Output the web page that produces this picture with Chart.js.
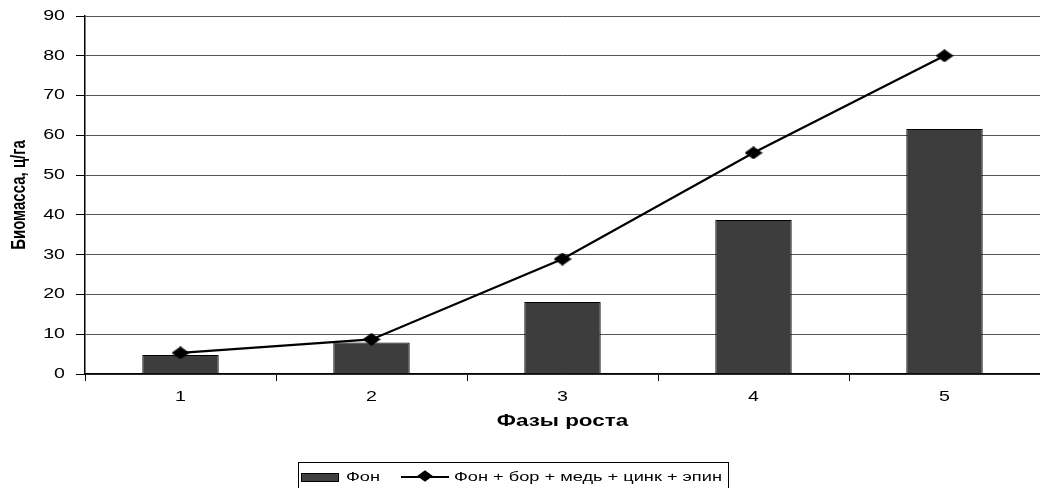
<!DOCTYPE html>
<html>
<head>
<meta charset="utf-8">
<script src="https://cdn.jsdelivr.net/npm/chart.js@4.4.0/dist/chart.umd.min.js"></script>
<style>
  html, body { margin: 0; padding: 0; background: #fff; }
  #wrap { position: relative; width: 1040px; height: 488px; overflow: hidden; }
  #c { position: absolute; left: 0; top: 0; }
  #legend { position: absolute; left: 298px; top: 462px; width: 431px; height: 40px;
    border: 1px solid #000; box-sizing: border-box; font-family: "Liberation Sans", Arial, sans-serif;
    font-size: 13px; color: #000; white-space: nowrap; }
  #legend .item { position: absolute; top: 6px; line-height: 16px; transform: scaleX(1.4); transform-origin: 0 50%; }
  .sw-bar { position: absolute; width: 36px; height: 7px; background: #404040; border: 1px solid #000; }
  .sw-line { position: absolute; width: 48px; height: 2px; background: #000; }
  .sw-dia { position: absolute; width: 8px; height: 8px; background: #000; transform: scaleX(1.4) rotate(45deg); }
</style>
</head>
<body>
<div id="wrap">
  <canvas id="c" width="1040" height="488"></canvas>
  <div id="legend">
    <div class="sw-bar" style="left:2px; top:10px;"></div>
    <div class="item" style="left:47px;">Фон</div>
    <div class="sw-line" style="left:102px; top:13px;"></div>
    <div class="sw-dia" style="left:122px; top:9px;"></div>
    <div class="item" style="left:155px;">Фон + бор + медь + цинк + эпин</div>
  </div>
</div>
<script>
const categories = ["1", "2", "3", "4", "5"];
const seriesBarName = "Фон";
const seriesBar = [4.8, 7.9, 18.1, 38.7, 61.6];
const seriesLineName = "Фон + бор + медь + цинк + эпин";
const seriesLine = [5.3, 8.7, 28.9, 55.6, 80];
const yTicks = [0, 10, 20, 30, 40, 50, 60, 70, 80, 90];
const xTitle = "Фазы роста";
const yTitle = "Биомасса, ц/га";

// The reference image is horizontally stretched: draw text wider to match.
const STRETCH = 1.4;
const origFill = CanvasRenderingContext2D.prototype.fillText;
CanvasRenderingContext2D.prototype.fillText = function (t, x, y) {
  const m = this.getTransform();
  this.save();
  this.translate(x, y);
  if (Math.abs(m.b) > 0.01) this.scale(1, STRETCH); else this.scale(STRETCH, 1);
  origFill.call(this, t, 0, 0);
  this.restore();
};

// stretched diamond marker
const dia = document.createElement('canvas');
dia.width = 18; dia.height = 13;
(function () {
  const g = dia.getContext('2d');
  g.fillStyle = '#000';
  g.beginPath();
  g.moveTo(9, 0); g.lineTo(18, 6.5); g.lineTo(9, 13); g.lineTo(0, 6.5);
  g.closePath(); g.fill();
})();

const tickFont = { family: "'Liberation Sans', Arial, sans-serif", size: 14 };

new Chart(document.getElementById('c'), {
  data: {
    labels: categories,
    datasets: [
      {
        type: 'line', label: seriesLineName, data: seriesLine,
        borderColor: '#000', backgroundColor: '#000', borderWidth: 2.2,
        pointStyle: dia, pointRadius: 7, pointHoverRadius: 7,
        tension: 0, order: 0, clip: false
      },
      {
        type: 'bar', label: seriesBarName, data: seriesBar,
        backgroundColor: '#3d3d3d', borderColor: '#000', borderWidth: 1,
        barPercentage: 0.4, categoryPercentage: 1.0, order: 1
      }
    ]
  },
  options: {
    responsive: false, animation: false,
    layout: { autoPadding: false, padding: { top: 16, right: 0, bottom: 54, left: 0 } },
    plugins: { legend: { display: false }, tooltip: { enabled: false } },
    scales: {
      x: {
        offset: true,
        grid: { offset: true, drawOnChartArea: false, drawTicks: true, tickLength: 7, color: '#000' },
        border: { color: '#000', width: 1.5 },
        ticks: { color: '#000', font: tickFont, padding: 8 },
        title: { display: true, text: xTitle, color: '#000',
          font: { family: "'Liberation Sans', Arial, sans-serif", size: 16, weight: 'bold' }, padding: { top: 0, bottom: 3 } },
        afterFit(s) { s.height = 60; s.paddingLeft = 0; s.paddingRight = 0; }
      },
      y: {
        min: 0, max: 90,
        afterBuildTicks(s) { s.ticks = yTicks.map(v => ({ value: v })); },
        grid: { color: '#555', lineWidth: 1, tickLength: 9, tickColor: '#000' },
        border: { color: '#000', width: 1.5 },
        ticks: { color: '#000', font: tickFont, padding: 11 },
        title: { display: true, text: yTitle, color: '#000',
          font: { family: "'Liberation Sans Narrow', 'Liberation Sans', Arial, sans-serif", size: 15, weight: 'bold' }, padding: { top: 10, bottom: 0 } },
        afterFit(s) { s.width = 85; s.paddingTop = 0; s.paddingBottom = 0; }
      }
    }
  }
});
</script>
</body>
</html>
